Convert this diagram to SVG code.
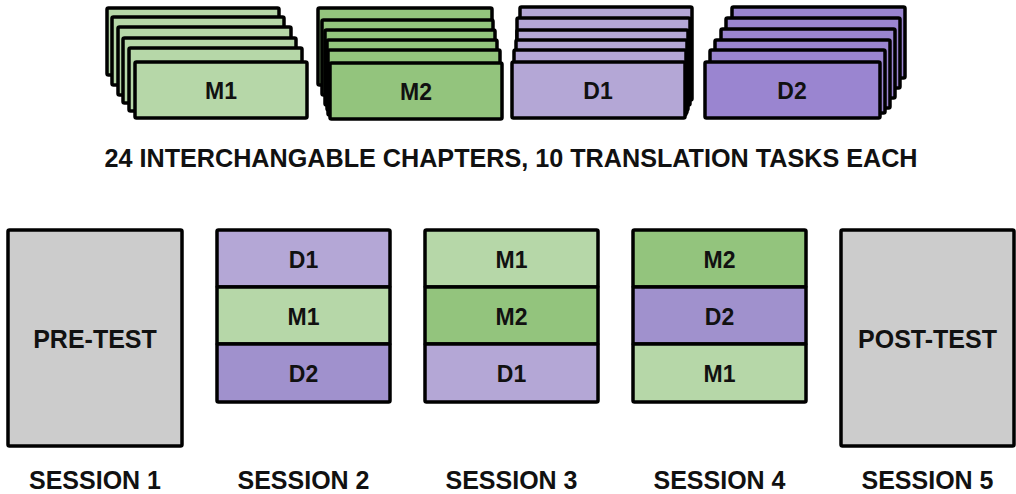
<svg xmlns="http://www.w3.org/2000/svg" width="1016" height="494" viewBox="0 0 1016 494">
<style>
.c{stroke:#000;stroke-width:3.5;stroke-linejoin:round}
.m1{fill:#b6d7a8}.m2{fill:#93c47d}.d1{fill:#b4a7d6}.d2{fill:#9a85d0}.d2b{fill:#a091cd}.g{fill:#cccccc}
text{font-family:"Liberation Sans",Arial,sans-serif;font-weight:bold;fill:#111;text-anchor:middle}
.l{font-size:23px}.t{font-size:25px}
</style>
<rect width="1016" height="494" fill="#fff"/>
<g id="stack-m1">
<rect class="c m1" x="107" y="8" width="172" height="67" rx="1.5"/>
<rect class="c m1" x="112" y="17" width="172" height="68" rx="1.5"/>
<rect class="c m1" x="118" y="27" width="173" height="68" rx="1.5"/>
<rect class="c m1" x="123" y="38" width="173" height="65" rx="1.5"/>
<rect class="c m1" x="129" y="48" width="173" height="63" rx="1.5"/>
<rect class="c m1" x="135" y="62" width="172" height="56" rx="1.5"/>
<text class="l" x="221" y="99">M1</text>
</g>
<g id="stack-m2">
<rect class="c m2" x="318" y="8" width="174" height="77" rx="1.5"/>
<rect class="c m2" x="322" y="20" width="171" height="75" rx="1.5"/>
<rect class="c m2" x="325" y="30" width="170" height="75" rx="1.5"/>
<rect class="c m2" x="327" y="40" width="170" height="70" rx="1.5"/>
<rect class="c m2" x="328" y="50" width="172" height="65" rx="1.5"/>
<rect class="c m2" x="330" y="63" width="172" height="56" rx="1.5"/>
<text class="l" x="416" y="100">M2</text>
</g>
<g id="stack-d1">
<rect class="c d1" x="520" y="7" width="172" height="93" rx="1.5"/>
<rect class="c d1" x="517" y="18" width="173" height="87" rx="1.5"/>
<rect class="c d1" x="517" y="30" width="171" height="80" rx="1.5"/>
<rect class="c d1" x="516" y="40" width="171" height="73" rx="1.5"/>
<rect class="c d1" x="514" y="50" width="172" height="65" rx="1.5"/>
<rect class="c d1" x="512" y="62" width="173" height="56" rx="1.5"/>
<text class="l" x="598" y="99">D1</text>
</g>
<g id="stack-d2">
<rect class="c d2" x="732" y="7" width="173" height="71" rx="1.5"/>
<rect class="c d2" x="726" y="18" width="174" height="70" rx="1.5"/>
<rect class="c d2" x="721" y="29" width="174" height="69" rx="1.5"/>
<rect class="c d2" x="715" y="40" width="175" height="68" rx="1.5"/>
<rect class="c d2" x="710" y="50" width="175" height="63" rx="1.5"/>
<rect class="c d2" x="705" y="62" width="175" height="56" rx="1.5"/>
<text class="l" x="792" y="99">D2</text>
</g>
<g id="title">
<text class="t" x="511" y="167" textLength="813" lengthAdjust="spacingAndGlyphs">24 INTERCHANGABLE CHAPTERS, 10 TRANSLATION TASKS EACH</text>
</g>
<g id="session1">
<rect class="c g" x="8" y="230" width="174" height="216" rx="1.5"/>
<text class="t" x="95" y="348">PRE-TEST</text>
<text class="t" x="95" y="489">SESSION 1</text>
</g>
<g id="session2">
<rect class="c d1" x="217" y="230" width="173" height="57" rx="1.5"/>
<rect class="c m1" x="217" y="287" width="173" height="57"/>
<rect class="c d2b" x="217" y="344" width="173" height="58" rx="1.5"/>
<text class="l" x="303.5" y="268">D1</text>
<text class="l" x="303.5" y="325">M1</text>
<text class="l" x="303.5" y="382">D2</text>
<text class="t" x="303.5" y="489">SESSION 2</text>
</g>
<g id="session3">
<rect class="c m1" x="425" y="230" width="173" height="57" rx="1.5"/>
<rect class="c m2" x="425" y="287" width="173" height="57"/>
<rect class="c d1" x="425" y="344" width="173" height="58" rx="1.5"/>
<text class="l" x="511.5" y="268">M1</text>
<text class="l" x="511.5" y="325">M2</text>
<text class="l" x="511.5" y="382">D1</text>
<text class="t" x="511.5" y="489">SESSION 3</text>
</g>
<g id="session4">
<rect class="c m2" x="633" y="230" width="173" height="57" rx="1.5"/>
<rect class="c d2b" x="633" y="287" width="173" height="57"/>
<rect class="c m1" x="633" y="344" width="173" height="58" rx="1.5"/>
<text class="l" x="719.5" y="268">M2</text>
<text class="l" x="719.5" y="325">D2</text>
<text class="l" x="719.5" y="382">M1</text>
<text class="t" x="719.5" y="489">SESSION 4</text>
</g>
<g id="session5">
<rect class="c g" x="841" y="230" width="173" height="216" rx="1.5"/>
<text class="t" x="927.5" y="348">POST-TEST</text>
<text class="t" x="927.5" y="489">SESSION 5</text>
</g>
<g id="connectors"/>
</svg>
